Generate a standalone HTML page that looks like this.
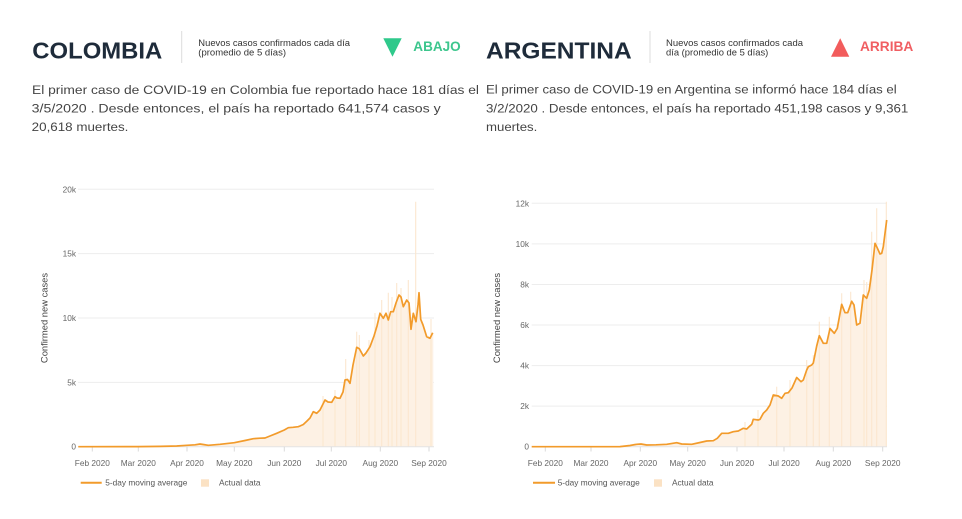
<!DOCTYPE html>
<html>
<head>
<meta charset="utf-8">
<style>
  html, body { margin:0; padding:0; background:#ffffff; }
  body { width:962px; height:519px; overflow:hidden; position:relative; }
  svg { position:absolute; left:0; top:0; }
  text { font-family: "Liberation Sans", "DejaVu Sans", sans-serif; }
</style>
</head>
<body>
<svg width="962" height="519" viewBox="0 0 962 519" xmlns="http://www.w3.org/2000/svg">
  <!-- ================= HEADER: COLOMBIA ================= -->
  <text x="32.3" y="58.3" font-size="23.5" font-weight="bold" fill="#1e2b3a" textLength="130" lengthAdjust="spacingAndGlyphs">COLOMBIA</text>
  <line x1="181.7" y1="31" x2="181.7" y2="63" stroke="#dcdcdc" stroke-width="1"/>
  <text x="198.3" y="46" font-size="8.8" fill="#333" textLength="151.7" lengthAdjust="spacingAndGlyphs">Nuevos casos confirmados cada día</text>
  <text x="198.3" y="55.3" font-size="8.8" fill="#333" textLength="87.7" lengthAdjust="spacingAndGlyphs">(promedio de 5 días)</text>
  <polygon points="383.3,38.3 401.7,38.3 392.5,56.7" fill="#2fc98b"/>
  <text x="413.3" y="51" font-size="14" font-weight="bold" fill="#3cc68d" textLength="47.4" lengthAdjust="spacingAndGlyphs">ABAJO</text>

  <text x="32" y="94" font-size="12.4" fill="#444" textLength="447" lengthAdjust="spacingAndGlyphs">El primer caso de COVID-19 en Colombia fue reportado hace 181 días el</text>
  <text x="31.7" y="112.6" font-size="12.4" fill="#444" textLength="409" lengthAdjust="spacingAndGlyphs">3/5/2020 . Desde entonces, el país ha reportado 641,574 casos y</text>
  <text x="31.7" y="131" font-size="12.4" fill="#444" textLength="96.7" lengthAdjust="spacingAndGlyphs">20,618 muertes.</text>

  <!-- ================= HEADER: ARGENTINA ================= -->
  <text x="486" y="58.3" font-size="23.5" font-weight="bold" fill="#1e2b3a" textLength="145.7" lengthAdjust="spacingAndGlyphs">ARGENTINA</text>
  <line x1="650" y1="31" x2="650" y2="63" stroke="#dcdcdc" stroke-width="1"/>
  <text x="666" y="46" font-size="8.8" fill="#333" textLength="137" lengthAdjust="spacingAndGlyphs">Nuevos casos confirmados cada</text>
  <text x="666" y="55.3" font-size="8.8" fill="#333" textLength="102.3" lengthAdjust="spacingAndGlyphs">día (promedio de 5 días)</text>
  <polygon points="831,56.7 849.3,56.7 840.2,38.3" fill="#f25c5c"/>
  <text x="860" y="51" font-size="14" font-weight="bold" fill="#f05e62" textLength="53.3" lengthAdjust="spacingAndGlyphs">ARRIBA</text>

  <text x="486" y="93.6" font-size="12.4" fill="#444" textLength="410.7" lengthAdjust="spacingAndGlyphs">El primer caso de COVID-19 en Argentina se informó hace 184 días el</text>
  <text x="486" y="112.6" font-size="12.4" fill="#444" textLength="422.3" lengthAdjust="spacingAndGlyphs">3/2/2020 . Desde entonces, el país ha reportado 451,198 casos y 9,361</text>
  <text x="486" y="131" font-size="12.4" fill="#444" textLength="51.3" lengthAdjust="spacingAndGlyphs">muertes.</text>

  <!-- ================= CHART: COLOMBIA ================= -->
  <g stroke="#ededed" stroke-width="1">
    <line x1="78" y1="189.3" x2="434" y2="189.3"/>
    <line x1="78" y1="253.6" x2="434" y2="253.6"/>
    <line x1="78" y1="318" x2="434" y2="318"/>
    <line x1="78" y1="382.4" x2="434" y2="382.4"/>
  </g>
  <g font-size="8.3" fill="#666" text-anchor="end">
    <text x="76" y="192.3">20k</text>
    <text x="76" y="256.6">15k</text>
    <text x="76" y="321">10k</text>
    <text x="76" y="385.4">5k</text>
    <text x="76" y="449.7">0</text>
  </g>
  <text transform="translate(47.5,318) rotate(-90)" font-size="9.4" fill="#444" text-anchor="middle">Confirmed new cases</text>

  <polygon fill="#fdf1e4" points="78.3,446.7 138,446.6 160,446.4 176.7,446 187,445.3 195,444.8 200,444 204,444.6 208.3,445.3 220,444.3 234.3,442.7 245,440.5 253.3,438.7 260,438.2 265,438 270,436 276.7,433.3 284.3,430 288.3,427.7 293,427.3 298.3,426.7 300,426 303.3,424.5 307,421 310,418 313.3,411.7 316.7,413.3 320,410 325,400 328,402 331.7,402.3 335,396.7 337,398 340,398.3 343,392 345,380 347.5,379.5 350,383.3 353,365 356.7,347.3 359.3,348.7 363.3,356 366,353 370,346.7 374,336 377,326 380,313.3 383.3,318.3 386,313.3 388.3,320 390.7,311.7 393.3,311.7 396,303 399,295 401,297 403.3,306.7 406.7,300 409,303 411,329.3 413.3,313.3 416,321.7 418,305 419,292.7 420.7,319.3 423,325 426.7,336.7 430,338.3 432.7,332.7 433.3,332.7 433.3,446.7"/>
  <g stroke="#fbe7cf" stroke-width="1.1">
    <line x1="345.7" y1="446.7" x2="345.7" y2="359"/>
    <line x1="356.7" y1="446.7" x2="356.7" y2="331.7"/>
    <line x1="359.3" y1="446.7" x2="359.3" y2="335"/>
    <line x1="369" y1="446.7" x2="369" y2="340"/>
    <line x1="375" y1="446.7" x2="375" y2="313"/>
    <line x1="381.7" y1="446.7" x2="381.7" y2="300"/>
    <line x1="388.3" y1="446.7" x2="388.3" y2="292.7"/>
    <line x1="392" y1="446.7" x2="392" y2="297"/>
    <line x1="396.7" y1="446.7" x2="396.7" y2="283"/>
    <line x1="401" y1="446.7" x2="401" y2="288"/>
    <line x1="408.3" y1="446.7" x2="408.3" y2="280"/>
    <line x1="415.7" y1="446.7" x2="415.7" y2="201.7"/>
    <line x1="431" y1="446.7" x2="431" y2="319"/>
    <line x1="323" y1="446.7" x2="323" y2="396"/>
    <line x1="335" y1="446.7" x2="335" y2="390"/>
  </g>
  <line x1="78" y1="446.7" x2="434" y2="446.7" stroke="#e4e4e4" stroke-width="1"/>
  <g stroke="#dadada" stroke-width="1">
    <line x1="92.3" y1="446.7" x2="92.3" y2="451.5"/>
    <line x1="138.3" y1="446.7" x2="138.3" y2="451.5"/>
    <line x1="187" y1="446.7" x2="187" y2="451.5"/>
    <line x1="234.3" y1="446.7" x2="234.3" y2="451.5"/>
    <line x1="284.3" y1="446.7" x2="284.3" y2="451.5"/>
    <line x1="331.3" y1="446.7" x2="331.3" y2="451.5"/>
    <line x1="380.3" y1="446.7" x2="380.3" y2="451.5"/>
    <line x1="429" y1="446.7" x2="429" y2="451.5"/>
  </g>
  <polyline fill="none" stroke="#f29b2b" stroke-width="1.7" stroke-linejoin="round" points="78.3,446.7 138,446.6 160,446.4 176.7,446 187,445.3 195,444.8 200,444 204,444.6 208.3,445.3 220,444.3 234.3,442.7 245,440.5 253.3,438.7 260,438.2 265,438 270,436 276.7,433.3 284.3,430 288.3,427.7 293,427.3 298.3,426.7 300,426 303.3,424.5 307,421 310,418 313.3,411.7 316.7,413.3 320,410 325,400 328,402 331.7,402.3 335,396.7 337,398 340,398.3 343,392 345,380 347.5,379.5 350,383.3 353,365 356.7,347.3 359.3,348.7 363.3,356 366,353 370,346.7 374,336 377,326 380,313.3 383.3,318.3 386,313.3 388.3,320 390.7,311.7 393.3,311.7 396,303 399,295 401,297 403.3,306.7 406.7,300 409,303 411,329.3 413.3,313.3 416,321.7 418,305 419,292.7 420.7,319.3 423,325 426.7,336.7 430,338.3 432.7,332.7"/>
  <g font-size="8.3" fill="#666" text-anchor="middle">
    <text x="92.3" y="466">Feb 2020</text>
    <text x="138.3" y="466">Mar 2020</text>
    <text x="187" y="466">Apr 2020</text>
    <text x="234.3" y="466">May 2020</text>
    <text x="284.3" y="466">Jun 2020</text>
    <text x="331.3" y="466">Jul 2020</text>
    <text x="380.3" y="466">Aug 2020</text>
    <text x="429" y="466">Sep 2020</text>
  </g>
  <line x1="80.7" y1="482.7" x2="101.7" y2="482.7" stroke="#f29b2b" stroke-width="2"/>
  <text x="105.3" y="485.7" font-size="8.3" fill="#555">5-day moving average</text>
  <rect x="201" y="479.3" width="8" height="7.4" fill="#fbe2c4"/>
  <text x="219" y="485.7" font-size="8.3" fill="#555">Actual data</text>

  <!-- ================= CHART: ARGENTINA ================= -->
  <g stroke="#ededed" stroke-width="1">
    <line x1="531.7" y1="203.3" x2="887" y2="203.3"/>
    <line x1="531.7" y1="243.9" x2="887" y2="243.9"/>
    <line x1="531.7" y1="284.5" x2="887" y2="284.5"/>
    <line x1="531.7" y1="325" x2="887" y2="325"/>
    <line x1="531.7" y1="365.6" x2="887" y2="365.6"/>
    <line x1="531.7" y1="406.1" x2="887" y2="406.1"/>
  </g>
  <g font-size="8.3" fill="#666" text-anchor="end">
    <text x="529" y="206.3">12k</text>
    <text x="529" y="246.9">10k</text>
    <text x="529" y="287.5">8k</text>
    <text x="529" y="328">6k</text>
    <text x="529" y="368.6">4k</text>
    <text x="529" y="409.1">2k</text>
    <text x="529" y="449.7">0</text>
  </g>
  <text transform="translate(500,318) rotate(-90)" font-size="9.4" fill="#444" text-anchor="middle">Confirmed new cases</text>

  <polygon fill="#fdf1e4" points="531.7,446.7 620,446.6 630,445.5 636.7,444.3 641,444 646.7,445 656,444.8 666.7,444.3 676.7,442.7 681.7,444 691.7,444.3 700,442.5 706.7,441 713.3,440.7 717.3,438.3 721.7,433.3 728.3,433.3 733.3,431.7 738.3,431 743.3,428.3 746.7,429 751.7,424.3 753.3,419.3 758.3,420 760,419.3 763.3,413.3 766.7,410 770,405 773.3,395 778.3,396 781.7,398.3 785,393.3 788.3,392.7 792,388 796.7,377.5 801,381.7 803.3,380 806.7,370 808.3,366.7 811.7,365 813.3,363 816.7,346 819.3,335.7 823.3,343.3 826.7,343.3 830,328.5 834.3,333.3 837.3,328.3 841.7,304.3 845,312.7 847.7,312.7 851.7,301.3 854,305 856.7,325 860,323.3 863.3,295 865,296.7 866.7,298.3 869.3,290 872,270 875,243.3 876.7,246.7 880,254 881.7,253.3 883.3,246.7 886.7,220 886.7,446.7"/>
  <g stroke="#fbe7cf" stroke-width="1.1">
    <line x1="745" y1="446.7" x2="745" y2="422"/>
    <line x1="758" y1="446.7" x2="758" y2="410"/>
    <line x1="776.7" y1="446.7" x2="776.7" y2="386.7"/>
    <line x1="790" y1="446.7" x2="790" y2="380"/>
    <line x1="806.7" y1="446.7" x2="806.7" y2="360"/>
    <line x1="813.3" y1="446.7" x2="813.3" y2="355"/>
    <line x1="819.3" y1="446.7" x2="819.3" y2="321.7"/>
    <line x1="829.3" y1="446.7" x2="829.3" y2="316.7"/>
    <line x1="841.7" y1="446.7" x2="841.7" y2="293.3"/>
    <line x1="850.7" y1="446.7" x2="850.7" y2="291.7"/>
    <line x1="864" y1="446.7" x2="864" y2="280"/>
    <line x1="866.7" y1="446.7" x2="866.7" y2="282"/>
    <line x1="871.7" y1="446.7" x2="871.7" y2="231.7"/>
    <line x1="876.7" y1="446.7" x2="876.7" y2="208.3"/>
    <line x1="886.3" y1="446.7" x2="886.3" y2="201.7"/>
  </g>
  <line x1="531.7" y1="446.7" x2="887" y2="446.7" stroke="#e4e4e4" stroke-width="1"/>
  <g stroke="#dadada" stroke-width="1">
    <line x1="545.3" y1="446.7" x2="545.3" y2="451.5"/>
    <line x1="591" y1="446.7" x2="591" y2="451.5"/>
    <line x1="640.3" y1="446.7" x2="640.3" y2="451.5"/>
    <line x1="687.7" y1="446.7" x2="687.7" y2="451.5"/>
    <line x1="737" y1="446.7" x2="737" y2="451.5"/>
    <line x1="784" y1="446.7" x2="784" y2="451.5"/>
    <line x1="833.3" y1="446.7" x2="833.3" y2="451.5"/>
    <line x1="882.7" y1="446.7" x2="882.7" y2="451.5"/>
  </g>
  <polyline fill="none" stroke="#f29b2b" stroke-width="1.7" stroke-linejoin="round" points="531.7,446.7 620,446.6 630,445.5 636.7,444.3 641,444 646.7,445 656,444.8 666.7,444.3 676.7,442.7 681.7,444 691.7,444.3 700,442.5 706.7,441 713.3,440.7 717.3,438.3 721.7,433.3 728.3,433.3 733.3,431.7 738.3,431 743.3,428.3 746.7,429 751.7,424.3 753.3,419.3 758.3,420 760,419.3 763.3,413.3 766.7,410 770,405 773.3,395 778.3,396 781.7,398.3 785,393.3 788.3,392.7 792,388 796.7,377.5 801,381.7 803.3,380 806.7,370 808.3,366.7 811.7,365 813.3,363 816.7,346 819.3,335.7 823.3,343.3 826.7,343.3 830,328.5 834.3,333.3 837.3,328.3 841.7,304.3 845,312.7 847.7,312.7 851.7,301.3 854,305 856.7,325 860,323.3 863.3,295 865,296.7 866.7,298.3 869.3,290 872,270 875,243.3 876.7,246.7 880,254 881.7,253.3 883.3,246.7 886.7,220"/>
  <g font-size="8.3" fill="#666" text-anchor="middle">
    <text x="545.3" y="466">Feb 2020</text>
    <text x="591" y="466">Mar 2020</text>
    <text x="640.3" y="466">Apr 2020</text>
    <text x="687.7" y="466">May 2020</text>
    <text x="737" y="466">Jun 2020</text>
    <text x="784" y="466">Jul 2020</text>
    <text x="833.3" y="466">Aug 2020</text>
    <text x="882.7" y="466">Sep 2020</text>
  </g>
  <line x1="533" y1="482.7" x2="555" y2="482.7" stroke="#f29b2b" stroke-width="2"/>
  <text x="557.7" y="485.7" font-size="8.3" fill="#555">5-day moving average</text>
  <rect x="654" y="479.3" width="8" height="7.4" fill="#fbe2c4"/>
  <text x="672" y="485.7" font-size="8.3" fill="#555">Actual data</text>
</svg>
</body>
</html>
